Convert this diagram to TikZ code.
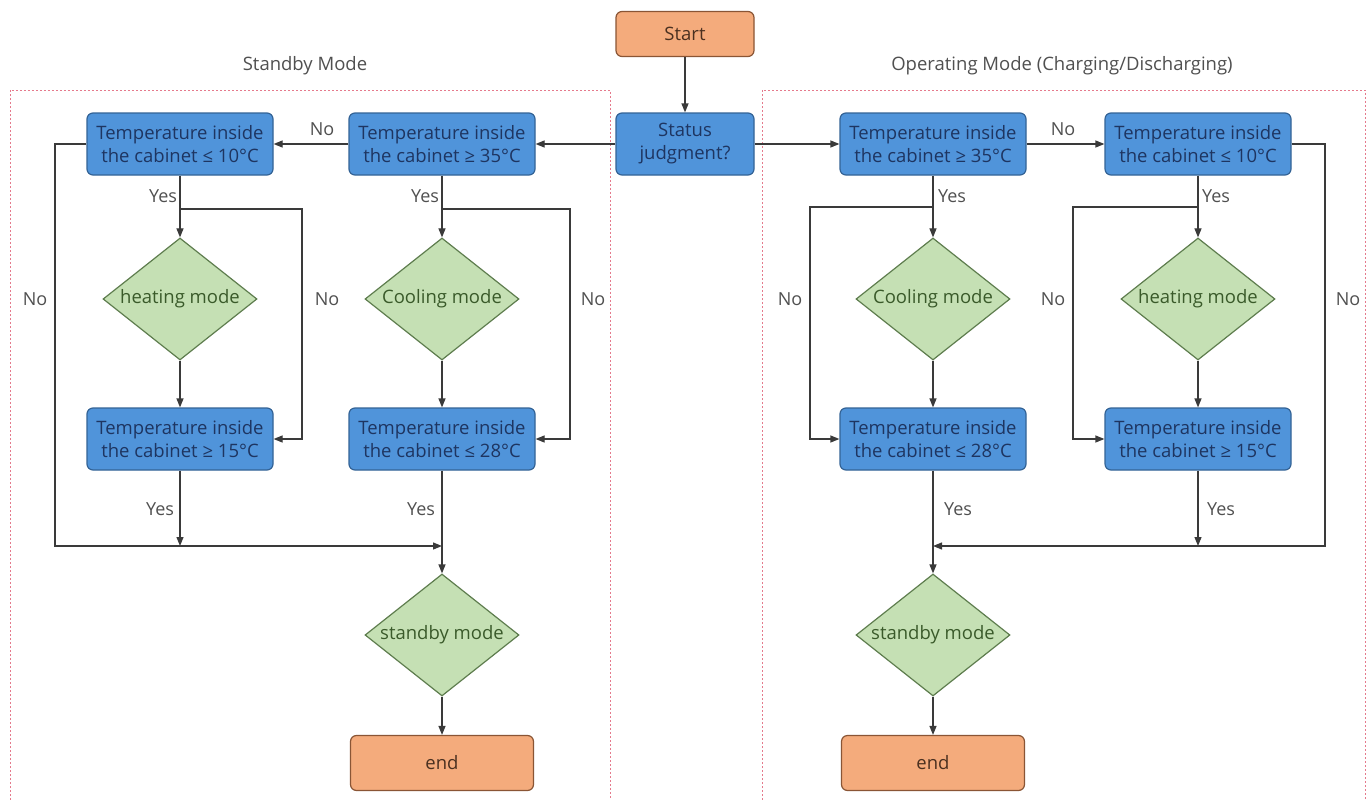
\documentclass[tikz,border=0pt]{standalone}
\usepackage{fontspec}
\setmainfont{Open Sans}
\usetikzlibrary{shapes.geometric,arrows.meta}
\definecolor{bluef}{HTML}{5094DA}
\definecolor{bluedk}{HTML}{336396}
\definecolor{bluetxt}{HTML}{1E3561}
\definecolor{grnf}{HTML}{C5E0B4}
\definecolor{grndk}{HTML}{5E7D4E}
\definecolor{grntxt}{HTML}{3A5A2A}
\definecolor{orgf}{HTML}{F4AB7C}
\definecolor{orgdk}{HTML}{8A5535}
\definecolor{orgtxt}{HTML}{4A3020}
\definecolor{linec}{HTML}{3A3A3A}
\definecolor{lblc}{HTML}{505050}
\definecolor{dashc}{HTML}{E57A8C}
\begin{document}
\begin{tikzpicture}[x=1pt,y=-1pt,
  font=\fontsize{18.5}{23}\selectfont,
  proc/.style={draw=bluedk, fill=bluef, rounded corners=6pt, minimum width=186pt,
    minimum height=62pt, align=center, text=bluetxt, line width=1.2pt, inner sep=2pt},
  term/.style={draw=orgdk, fill=orgf, rounded corners=6pt, minimum width=138pt,
    minimum height=45pt, align=center, text=orgtxt, line width=1.2pt},
  endbox/.style={term, minimum width=183pt, minimum height=55pt},
  dec/.style={diamond, draw=grndk, fill=grnf, aspect=1.26, minimum width=154pt,
    minimum height=122pt, inner sep=0pt, text=grntxt, line width=1.2pt},
  arr/.style={-{Triangle[length=9pt,width=7pt]}, line width=1.2pt, draw=linec},
  lbl/.style={text=lblc, font=\fontsize{18}{20}\selectfont},
  ttl/.style={text=lblc, font=\fontsize{18.5}{20}\selectfont},
  grp/.style={draw=dashc, line width=1pt, dash pattern=on 2pt off 2pt}
]
\useasboundingbox (0,0) rectangle (1371,800);
\fill[white] (0,0) rectangle (1371,800);

% group frames
\draw[grp] (10,800) -- (10,90) -- (610,90) -- (610,800);
\draw[grp] (762,800) -- (762,90) -- (1365,90) -- (1365,800);
\node[ttl] (tl) at (305,66) {Standby Mode};
\node[ttl] (tr) at (1062,66) {Operating Mode (Charging/Discharging)};

% centre
\node[term] (start) at (685,34) {Start};
\node[proc, minimum width=138pt] (status) at (685,144) {Status\\judgment?};

% left side
\node[proc] (A) at (180,144) {Temperature inside\\the cabinet ≤ 10°C};
\node[proc] (B) at (442,144) {Temperature inside\\the cabinet ≥ 35°C};
\node[dec] (hL) at (180,299) {heating mode};
\node[dec] (cL) at (442,299) {Cooling mode};
\node[proc] (A2) at (180,439) {Temperature inside\\the cabinet ≥ 15°C};
\node[proc] (B2) at (442,439) {Temperature inside\\the cabinet ≤ 28°C};
\node[dec] (sL) at (442,635) {standby mode};
\node[endbox] (eL) at (442,763) {end};

% right side
\node[proc] (C) at (933,144) {Temperature inside\\the cabinet ≥ 35°C};
\node[proc] (D) at (1198,144) {Temperature inside\\the cabinet ≤ 10°C};
\node[dec] (cR) at (933,299) {Cooling mode};
\node[dec] (hR) at (1198,299) {heating mode};
\node[proc] (C2) at (933,439) {Temperature inside\\the cabinet ≤ 28°C};
\node[proc] (D2) at (1198,439) {Temperature inside\\the cabinet ≥ 15°C};
\node[dec] (sR) at (933,635) {standby mode};
\node[endbox] (eR) at (933,763) {end};

% helper coordinates
\coordinate (jA) at (180,209);
\coordinate (kA) at (302,439);
\coordinate (jB) at (442,209);
\coordinate (kB) at (570,439);
\coordinate (oA) at (55,546);
\coordinate (mL) at (442,546);
\coordinate (jC) at (933,207);
\coordinate (kC) at (810,439);
\coordinate (jD) at (1198,207);
\coordinate (kD) at (1073,439);
\coordinate (oD) at (1325,546);
\coordinate (mR) at (933,546);

% centre connectors
\draw[arr] (start) -- (status);
\draw[arr] (status) -- (B);
\draw[arr] (status) -- (C);

% left connectors
\draw[arr] (B) -- (A);
\draw[arr] (A) -- (hL);
\draw[arr] (B) -- (cL);
\draw[arr] (jA) -| (kA) -- (A2.east);
\draw[arr] (jB) -| (kB) -- (B2.east);
\draw[arr] (hL) -- (A2);
\draw[arr] (cL) -- (B2);
\draw[arr] (A.west) -| (oA) -- (mL);
\draw[arr] (A2) -- (A2.south |- mL);
\draw[arr] (B2) -- (sL);
\draw[arr] (sL) -- (eL);

% right connectors
\draw[arr] (C) -- (D);
\draw[arr] (C) -- (cR);
\draw[arr] (D) -- (hR);
\draw[arr] (jC) -| (kC) -- (C2.west);
\draw[arr] (jD) -| (kD) -- (D2.west);
\draw[arr] (cR) -- (C2);
\draw[arr] (hR) -- (D2);
\draw[arr] (D.east) -| (oD) -- (mR);
\draw[arr] (D2) -- (D2.south |- mR);
\draw[arr] (C2) -- (sR);
\draw[arr] (sR) -- (eR);

% labels
\node[lbl] (n1) at (322,129) {No};
\node[lbl] (y1) at (163,196) {Yes};
\node[lbl] (y2) at (425,196) {Yes};
\node[lbl] (n2) at (35,299) {No};
\node[lbl] (n3) at (327,299) {No};
\node[lbl] (n4) at (593,299) {No};
\node[lbl] (y3) at (160,509) {Yes};
\node[lbl] (y4) at (421,509) {Yes};

\node[lbl] (n5) at (1063,129) {No};
\node[lbl] (y5) at (952,196) {Yes};
\node[lbl] (y6) at (1216,196) {Yes};
\node[lbl] (n6) at (790,299) {No};
\node[lbl] (n7) at (1053,299) {No};
\node[lbl] (n8) at (1348,299) {No};
\node[lbl] (y7) at (958,509) {Yes};
\node[lbl] (y8) at (1221,509) {Yes};
\end{tikzpicture}
\end{document}
